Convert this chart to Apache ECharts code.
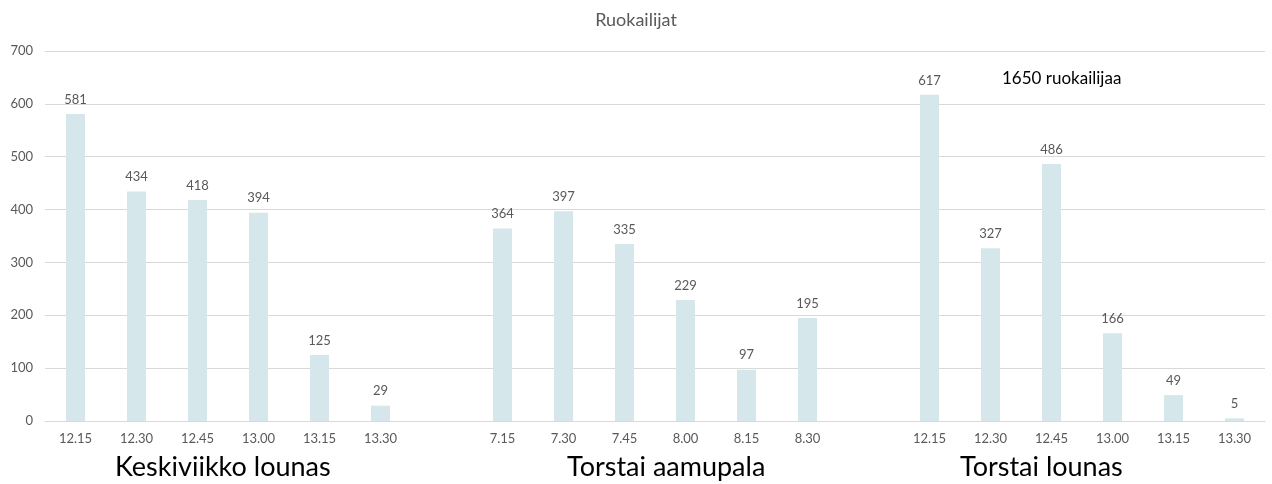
<!DOCTYPE html>
<html><head><meta charset="utf-8">
<script src="https://cdn.jsdelivr.net/npm/echarts@6/dist/echarts.min.js"></script>
<style>html,body{margin:0;padding:0;background:#fff}#c{width:1272px;height:484px}</style>
</head><body><div id="c"></div>
<script>
const categories = ['12.15','12.30','12.45','13.00','13.15','13.30','','7.15','7.30','7.45','8.00','8.15','8.30','','12.15','12.30','12.45','13.00','13.15','13.30'];
const values = [581,434,418,394,125,29,'-',364,397,335,229,97,195,'-',617,327,486,166,49,5];
const groupLabels = ['Keskiviikko lounas','Torstai aamupala','Torstai lounas'];
const yTicks = {min:0, max:700, interval:100};
const title = 'Ruokailijat';
const note = '1650 ruokailijaa';

const font = 'Lato, "Open Sans", sans-serif';
const chart = echarts.init(document.getElementById('c'));
chart.setOption({
  animation:false,
  title:{text:title,left:'center',top:6,textStyle:{fontFamily:font,fontSize:18,fontWeight:'normal',color:'#595959'}},
  grid:{left:45,right:7,top:51,bottom:63},
  xAxis:{type:'category',data:categories,axisTick:{show:false},
    axisLine:{lineStyle:{color:'#d9d9d9'}},
    axisLabel:{fontFamily:font,fontSize:13,color:'#595959',margin:11,interval:0}},
  yAxis:{type:'value',min:yTicks.min,max:yTicks.max,interval:yTicks.interval,
    axisLine:{show:false},axisTick:{show:false},
    splitLine:{lineStyle:{color:'#d9d9d9'}},
    axisLabel:{fontFamily:font,fontSize:13,color:'#595959',margin:12}},
  series:[{type:'bar',data:values,barWidth:19,itemStyle:{color:'#d6e7eb'},
    label:{show:true,position:'top',distance:8,fontFamily:font,fontSize:13,color:'#595959'}}],
  graphic:[
    {type:'text',left:115,top:454,style:{text:groupLabels[0],fontFamily:font,fontSize:27,fill:'#000'}},
    {type:'text',left:567,top:454,style:{text:groupLabels[1],fontFamily:font,fontSize:27,fill:'#000'}},
    {type:'text',left:960,top:454,style:{text:groupLabels[2],fontFamily:font,fontSize:27,fill:'#000'}},
    {type:'text',left:1002,top:70,style:{text:note,fontFamily:font,fontSize:17,fill:'#000'}}
  ]
});
</script></body></html>
